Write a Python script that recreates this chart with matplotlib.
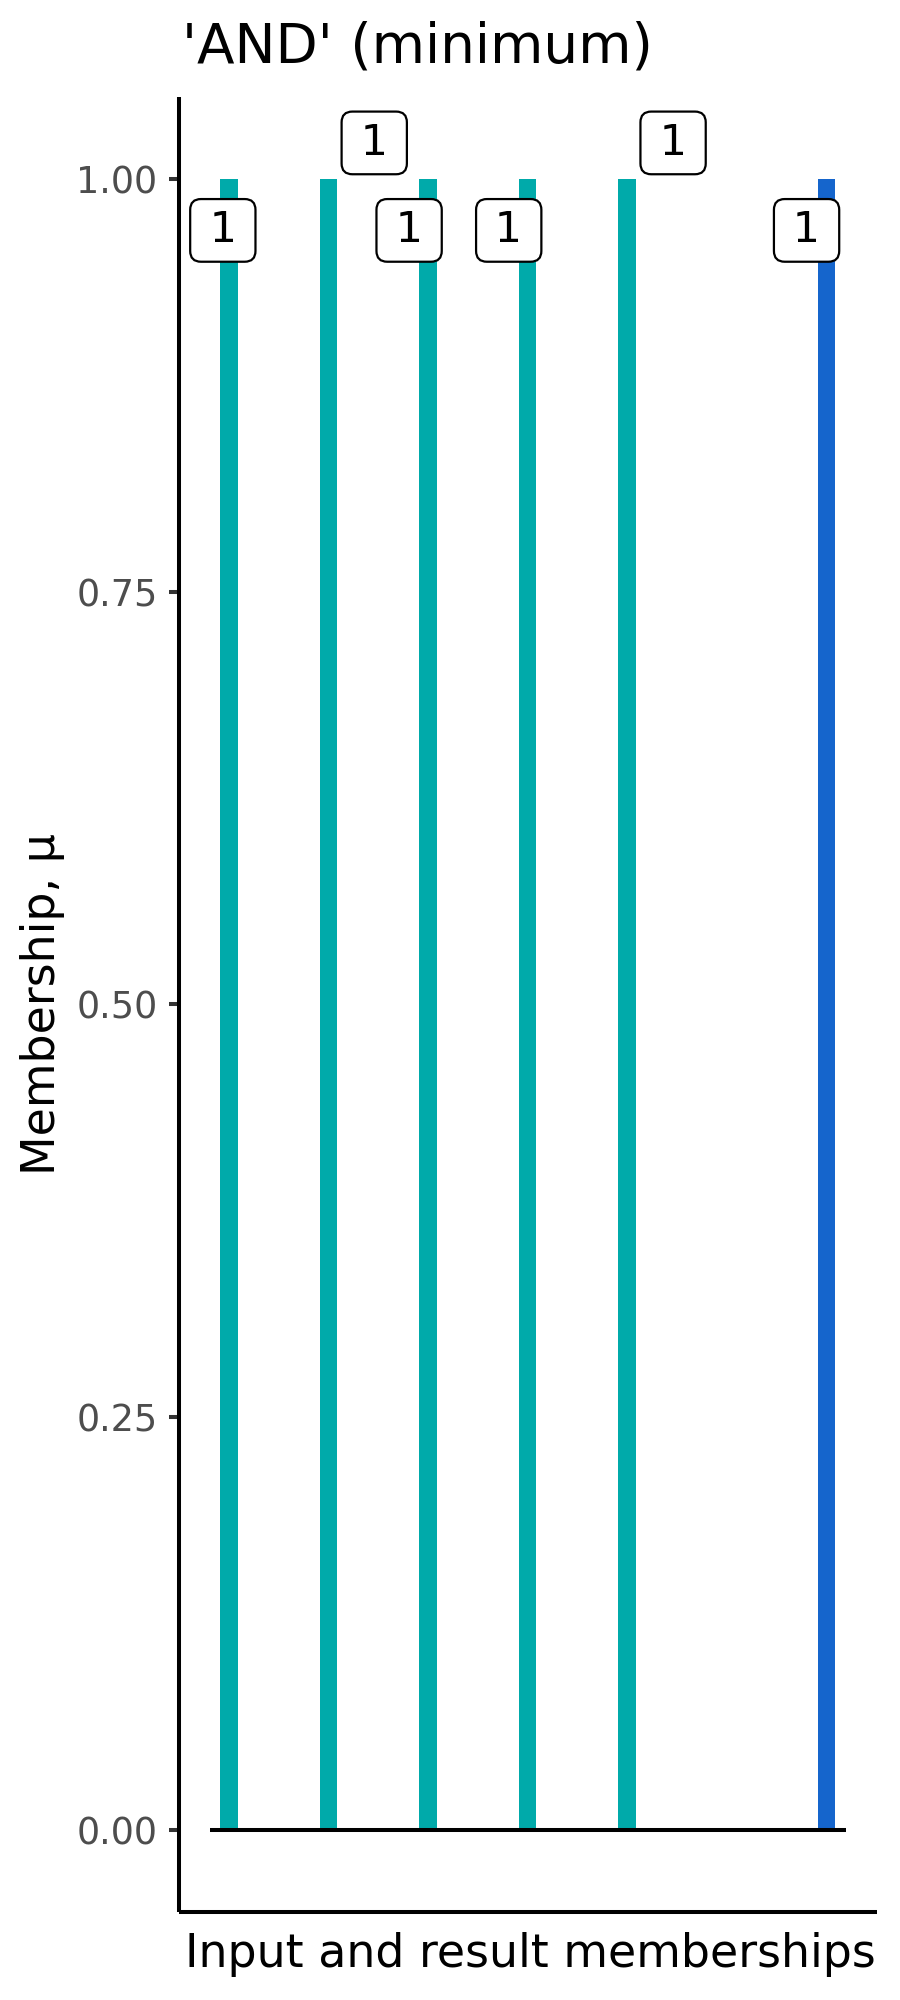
import numpy as np
import matplotlib.pyplot as plt

# данные: входные и результирующая принадлежности
positions = [1, 2, 3, 4, 5, 7]
memberships = [1, 1, 1, 1, 1, 1]
labels = ["1", "1", "1", "1", "1", "1"]
is_result = [False, False, False, False, False, True]
yticks = [0.00, 0.25, 0.50, 0.75, 1.00]
ytick_labels = ["0.00", "0.25", "0.50", "0.75", "1.00"]

# сдвиги подписей (как у ggrepel)
label_dx = [-0.06, 0.46, -0.19, -0.19, 0.46, -0.20]
label_dy = [-0.031, 0.022, -0.031, -0.031, 0.022, -0.031]

teal = "#00AAAA"
blue = "#1565CC"

fig = plt.figure(figsize=(9, 20), dpi=100)
ax = fig.add_axes([178.7 / 900, 1 - 1912.3 / 2000, (877 - 178.7) / 900, (1912.3 - 96.7) / 2000])

colors = [blue if r else teal for r in is_result]
ax.bar(positions, memberships, width=0.177, color=colors, zorder=2)
ax.plot([0.811, 7.193], [0, 0], color="black", lw=2.9, zorder=3, solid_capstyle="butt")

for x, y, t, dx, dy in zip(positions, memberships, labels, label_dx, label_dy):
    ax.text(x + dx, y + dy, "\u2009" + t + "\u2009", fontsize=31, ha="center", va="center",
            zorder=4,
            bbox=dict(boxstyle="round,pad=0.24,rounding_size=0.25", fc="white",
                      ec="black", lw=1.6))

ax.set_xlim(0.497, 7.507)
ax.set_ylim(-0.05, 1.05)
ax.set_yticks(yticks)
ax.set_yticklabels(ytick_labels)
ax.set_xticks([])
ax.tick_params(axis="y", length=7.2, width=2.9, color="#333333", pad=8,
               labelsize=26.3, labelcolor="#4D4D4D")
for s in ["top", "right"]:
    ax.spines[s].set_visible(False)
for s in ["left", "bottom"]:
    ax.spines[s].set_linewidth(2.9)
    ax.spines[s].set_color("black")
    ax.spines[s].set_capstyle("butt")

ax.set_ylabel("Membership, \u03bc", fontsize=33, labelpad=8)

fig.text(182 / 900, 1 - 63 / 2000, "'AND' (minimum)", fontsize=39.5,
         ha="left", va="baseline")
fig.text(530 / 900, 1 - 1967 / 2000, "Input and result memberships", fontsize=33,
         ha="center", va="baseline")

fig.savefig("out.png", dpi=100)
